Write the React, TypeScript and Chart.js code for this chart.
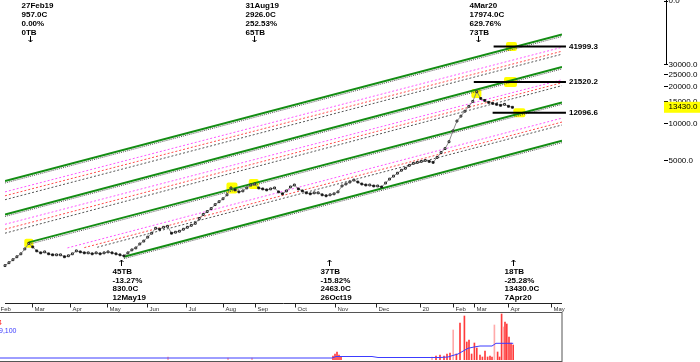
import React, { useEffect, useRef } from 'react';
import { Chart, registerables } from 'chart.js';

Chart.register(...registerables);

// ---------- DATA ----------
// x unit = sample index along the bar axis
const X_MIN = 0;
const X_MAX = 140.5;
const Y_MIN = 343.6;
const Y_MAX = 91201;

const closeVal: number[] = [
  692, 731, 773, 817, 863, 946, 1050, 982, 912, 879,
  895, 863, 847, 847, 847, 817, 832, 863, 912, 895,
  879, 879, 863, 879, 863, 879, 895, 879, 863, 847,
  830, 879, 929, 964, 1038, 1096, 1180, 1270, 1393, 1368,
  1419, 1445, 1270, 1294, 1318, 1368, 1419, 1472, 1528, 1675,
  1803, 1905, 2014, 2168, 2291, 2421, 2606, 2965, 2858, 2754,
  2805, 2965, 3133, 3192, 2965, 2911, 2858, 2911, 2965, 2754,
  2655, 2805, 3020, 3133, 2911, 2805, 2704, 2655, 2704, 2704,
  2606, 2559, 2606, 2655, 2754, 3076, 3192, 3311, 3436, 3311,
  3192, 3133, 3133, 3076, 3076, 3020, 3251, 3499, 3698, 3908,
  4130, 4285, 4529, 4699, 4786, 4875, 4966, 4875, 4786, 5248,
  5754, 6194, 7047, 8630, 10375, 11376, 12474, 13677, 14997, 17974,
  15849, 15276, 14723, 14454, 14191, 13932, 14191, 13677, 13430,
];
const closeIdx: number[] = closeVal.map((_, i) => i);

const monthTickX = [-1.75, 6.75, 16.5, 25.75, 35.75, 45.75, 55, 63, 73.25, 83.25, 93.5, 104.75, 113, 118.25, 127, 137.75];
const monthLabels = ['Feb', 'Mar', 'Apr', 'May', 'Jun', 'Jul', 'Aug', 'Sep', 'Oct', 'Nov', 'Dec', '20', 'Feb', 'Mar', 'Apr', 'May'];

// channel lines: [x1, v1, x2, v2]
const greenLines: number[][] = [
  [0, 3373, 140.5, 52481],
  [0, 1803, 140.5, 28576],
  [6, 1069, 140.5, 14723],
  [30, 817, 140.5, 7178],
];
const greenShadow: number[][] = [
  [0, 3252, 140.5, 50594],
  [0, 1738, 140.5, 27548],
  [6, 1031, 140.5, 14194],
  [30, 788, 140.5, 6920],
];
const pinkLines: number[][] = [
  [0, 2754, 140.5, 41305],
  [0, 1500, 140.5, 22491],
  [15.75, 964, 140.5, 10965],
];
const redLines: number[][] = [
  [0, 2559, 140.5, 38371],
  [0, 1368, 140.5, 21281],
  [20, 969, 140.5, 10186],
];
const grayLines: number[][] = [
  [0, 2377, 140.5, 36308],
  [0, 1270, 140.5, 20137],
  [23.25, 976, 140.5, 9638],
];

const levelValues = [41999.3, 21520.2, 12096.6];
const levelStartX = [123.25, 118.25, 123];
const levelEndX = 141.5;

const highlightX = [6, 57.25, 62.75, 118.9, 127.75, 127.5, 129.75];
const highlightV = [1050, 2965, 3192, 17378, 41999.3, 21520.2, 12096.6];

const rightTicks = [30000, 25000, 20000, 15000, 10000, 5000];
const lastPrice = 13430;

const topNotes = [
  { x: 6.25, lines: ['27Feb19', '957.0C', '0.00%', '0TB'] },
  { x: 62.75, lines: ['31Aug19', '2926.0C', '252.53%', '65TB'] },
  { x: 119.25, lines: ['4Mar20', '17974.0C', '629.76%', '73TB'] },
];
const bottomNotes = [
  { x: 29.25, lines: ['45TB', '-13.27%', '830.0C', '12May19'] },
  { x: 81.75, lines: ['37TB', '-15.82%', '2463.0C', '26Oct19'] },
  { x: 128.25, lines: ['18TB', '-25.28%', '13430.0C', '7Apr20'] },
];

// volume
const volX = [42, 57, 63, 83.25, 83.75, 84.25, 84.75, 85.25, 108, 109, 110, 111, 111.75, 112.5,
  113.3, 114.1, 115, 116.1, 116.7, 117.25, 117.9, 118.6, 119.2, 120, 120.6, 121.25, 121.9, 122.5, 123,
  123.6, 124.4, 124.9, 125.4, 125.8, 126.25, 126.7, 127.25, 127.75, 128.3];
const volV = [3, 2, 2, 4, 6, 8, 5, 3, 3, 4, 5, 4, 6, 7,
  30, 6, 37, 44, 18, 20, 6, 17, 12, 5, 3, 9, 3, 4, 3,
  35, 8, 3, 46, 33, 38, 36, 23, 17, 15];
const volLight = [42, 57, 63, 108, 113.3, 123.6, 125.8];
const maX = [0, 60, 83, 84, 93, 94.5, 110, 112, 113, 114.5, 115.5, 117, 118.5, 120, 123, 124, 128.3];
const maV = [2, 2, 2, 3.5, 3.5, 2.5, 2.5, 3, 4.3, 6, 8.3, 11.7, 13, 14, 14, 16.7, 16.7];

// ---------- STYLE ----------
const FONT = '"Liberation Sans", Arial, sans-serif';
const hlSize = [[9, 9], [11, 11], [10, 10], [10, 9], [11, 9], [13, 10], [12, 9]];

function seg(l: number[]) {
  return [{ x: l[0], y: l[1] }, { x: l[2], y: l[3] }];
}

export default function App() {
  const mainRef = useRef<HTMLCanvasElement>(null);
  const volRef = useRef<HTMLCanvasElement>(null);

  useEffect(() => {
    const datasets: any[] = [];
    const priceColors = closeVal.map((v, i) => (i > 0 && v < closeVal[i - 1] ? '#000000' : '#ffffff'));
    datasets.push({
      data: closeIdx.map((x, i) => ({ x, y: closeVal[i] })),
      borderColor: '#8a8a8a',
      borderWidth: 1,
      pointStyle: 'rect',
      pointRadius: 1.3,
      pointBackgroundColor: priceColors,
      pointBorderColor: '#222',
      pointBorderWidth: 1,
      order: 0,
      clip: false,
    });
    levelValues.forEach((v, i) => {
      datasets.push({
        data: [{ x: levelStartX[i], y: v }, { x: levelEndX, y: v }],
        borderColor: '#000', borderWidth: 2, pointRadius: 0, order: 1, clip: false,
      });
    });
    greenLines.forEach((l) => {
      datasets.push({ data: seg(l), borderColor: '#138d13', borderWidth: 2, pointRadius: 0, order: 2 });
    });
    greenShadow.forEach((l) => {
      datasets.push({ data: seg(l), borderColor: '#555', borderWidth: 1, borderDash: [1, 1], pointRadius: 0, order: 3 });
    });
    pinkLines.forEach((l) => {
      datasets.push({ data: seg(l), borderColor: '#ff55ff', borderWidth: 1, borderDash: [2, 2], pointRadius: 0, order: 4 });
    });
    redLines.forEach((l) => {
      datasets.push({ data: seg(l), borderColor: '#ff4a4a', borderWidth: 1, borderDash: [2, 2], pointRadius: 0, order: 4 });
    });
    grayLines.forEach((l) => {
      datasets.push({ data: seg(l), borderColor: '#555', borderWidth: 1, borderDash: [2, 2], pointRadius: 0, order: 4 });
    });

    const mainPlugin = {
      id: 'mainDeco',
      beforeDatasetsDraw(chart: any) {
        const { ctx, scales } = chart;
        ctx.save();
        ctx.fillStyle = '#ffff00';
        highlightX.forEach((x, i) => {
          const px = scales.x.getPixelForValue(x);
          const py = scales.y.getPixelForValue(highlightV[i]);
          const [w, h] = hlSize[i];
          ctx.beginPath();
          if (ctx.roundRect) ctx.roundRect(px - w / 2, py - h / 2, w, h, 2);
          else ctx.rect(px - w / 2, py - h / 2, w, h);
          ctx.fill();
        });
        ctx.restore();
      },
      afterDraw(chart: any) {
        const { ctx, scales, chartArea } = chart;
        const xs = scales.x;
        const ys = scales.y;
        ctx.save();
        // x axis
        const ay = Math.round(chartArea.bottom) + 0.5;
        ctx.strokeStyle = '#222';
        ctx.lineWidth = 1;
        ctx.beginPath();
        ctx.moveTo(chartArea.left, ay);
        ctx.lineTo(chartArea.right, ay);
        ctx.stroke();
        ctx.font = '6px ' + FONT;
        ctx.fillStyle = '#333';
        ctx.textBaseline = 'middle';
        ctx.textAlign = 'left';
        monthTickX.forEach((m, i) => {
          const px = Math.round(xs.getPixelForValue(m)) + 0.5;
          ctx.beginPath();
          ctx.moveTo(px, ay);
          ctx.lineTo(px, ay + 4);
          ctx.stroke();
          ctx.fillText(monthLabels[i], px + 2, ay + 6);
        });

        // right axis
        ctx.font = '8px ' + FONT;
        ctx.fillStyle = '#000';
        ctx.strokeStyle = '#000';
        const top30 = ys.getPixelForValue(30000);
        ctx.beginPath();
        ctx.moveTo(666.5, 0);
        ctx.lineTo(666.5, top30);
        ctx.stroke();
        ctx.beginPath();
        ctx.moveTo(664, 1.5);
        ctx.lineTo(668, 1.5);
        ctx.stroke();
        ctx.fillText('0.0', 668.5, 1);
        rightTicks.forEach((v) => {
          const py = Math.round(ys.getPixelForValue(v)) + 0.5;
          ctx.beginPath();
          ctx.moveTo(664, py);
          ctx.lineTo(668, py);
          ctx.stroke();
          ctx.fillText(v.toFixed(1), 668.5, py);
        });
        const lp = ys.getPixelForValue(lastPrice);
        ctx.fillStyle = '#ffff00';
        ctx.fillRect(664, lp - 5.5, 36, 11);
        ctx.fillStyle = '#000';
        ctx.fillText(lastPrice.toFixed(1), 668.5, lp);

        // level labels
        ctx.font = 'bold 8px ' + FONT;
        levelValues.forEach((v) => {
          const py = ys.getPixelForValue(v);
          ctx.fillText(v.toFixed(1), xs.getPixelForValue(levelEndX) + 3, py);
        });

        // notes
        ctx.font = 'bold 8px ' + FONT;
        ctx.lineWidth = 1;
        topNotes.forEach((n) => {
          const ax = Math.round(xs.getPixelForValue(n.x)) + 0.5;
          n.lines.forEach((t, k) => ctx.fillText(t, ax - 9, 6 + k * 8.8));
          ctx.beginPath();
          ctx.moveTo(ax, 36);
          ctx.lineTo(ax, 42);
          ctx.moveTo(ax - 2, 40);
          ctx.lineTo(ax, 42);
          ctx.lineTo(ax + 2, 40);
          ctx.stroke();
        });
        bottomNotes.forEach((n) => {
          const ax = Math.round(xs.getPixelForValue(n.x)) + 0.5;
          ctx.beginPath();
          ctx.moveTo(ax, 260);
          ctx.lineTo(ax, 266);
          ctx.moveTo(ax - 2, 262);
          ctx.lineTo(ax, 260);
          ctx.lineTo(ax + 2, 262);
          ctx.stroke();
          n.lines.forEach((t, k) => ctx.fillText(t, ax - 9, 272 + k * 8.5));
        });
        ctx.restore();
      },
    };

    const main = new Chart(mainRef.current!, {
      type: 'line',
      data: { datasets },
      options: {
        responsive: false,
        animation: false,
        events: [],
        layout: { padding: { left: 0, right: 138, top: 0, bottom: 9 } },
        plugins: { legend: { display: false }, tooltip: { enabled: false } },
        elements: { line: { tension: 0 } },
        scales: {
          x: { type: 'linear', min: X_MIN, max: X_MAX, display: false, bounds: 'data' },
          y: { type: 'logarithmic', min: Y_MIN, max: Y_MAX, display: false, bounds: 'data' },
        },
      },
      plugins: [mainPlugin],
    } as any);

    const volPlugin = {
      id: 'volDeco',
      afterDraw(chart: any) {
        const { ctx, chartArea } = chart;
        ctx.save();
        ctx.strokeStyle = '#555';
        ctx.lineWidth = 1;
        ctx.strokeRect(-0.5, 0.5, Math.round(chartArea.right) + 0.5, 49);
        ctx.font = '7px ' + FONT;
        ctx.textBaseline = 'middle';
        ctx.fillStyle = '#ff3030';
        ctx.fillText('4', -2, 11);
        ctx.fillStyle = '#3c3cff';
        ctx.fillText('9,100', -1, 19);
        ctx.restore();
      },
    };

    const vol = new Chart(volRef.current!, {
      type: 'bar',
      data: {
        datasets: [
          {
            type: 'line',
            data: maX.map((x, i) => ({ x, y: maV[i] })),
            borderColor: '#3c3cff',
            borderWidth: 1,
            pointRadius: 0,
            order: 0,
          },
          {
            type: 'bar',
            data: volX.map((x, i) => ({ x, y: volV[i] })),
            backgroundColor: volX.map((x) => (volLight.includes(x) ? '#ffaaaa' : '#ff3b3b')),
            barThickness: 1,
            order: 1,
          },
        ],
      },
      options: {
        responsive: false,
        animation: false,
        events: [],
        layout: { padding: { left: 0, right: 138, top: 1, bottom: 2 } },
        plugins: { legend: { display: false }, tooltip: { enabled: false } },
        scales: {
          x: { type: 'linear', min: X_MIN, max: X_MAX, display: false, bounds: 'data', offset: false },
          y: { type: 'linear', min: 0, max: 47, display: false, bounds: 'data' },
        },
      },
      plugins: [volPlugin],
    } as any);

    return () => {
      main.destroy();
      vol.destroy();
    };
  }, []);

  return (
    <div style={{ position: 'absolute', left: 0, top: 0, width: 700, height: 362, background: '#fff' }}>
      <canvas ref={mainRef} width={700} height={312} style={{ display: 'block' }} />
      <canvas ref={volRef} width={700} height={50} style={{ display: 'block' }} />
    </div>
  );
}
